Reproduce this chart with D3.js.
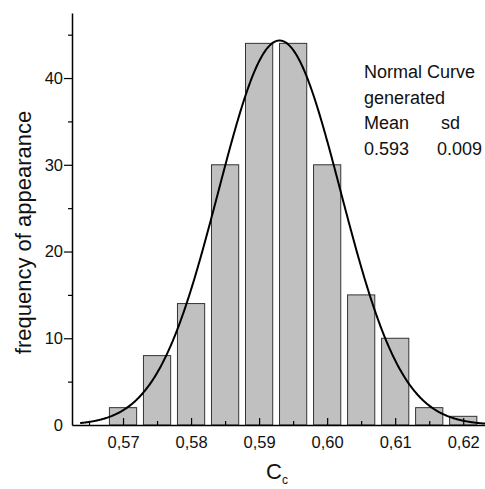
<!DOCTYPE html>
<html>
<head>
<meta charset="utf-8">
<script src="https://cdn.jsdelivr.net/npm/d3@7"></script>
<style>
  html, body { margin: 0; padding: 0; background: #fff; }
  svg { display: block; font-family: "Liberation Sans", Arial, Helvetica, sans-serif; }
</style>
</head>
<body>
<svg id="chart" width="485" height="489"></svg>
<script>
// Histogram of Cc with fitted normal curve
const binCenters = [0.570, 0.575, 0.580, 0.585, 0.590, 0.595, 0.600, 0.605, 0.610, 0.615, 0.620];
const frequencies = [2, 8, 14, 30, 44, 44, 30, 15, 10, 2, 1];
const binWidth = 0.005;
const barWidth = 0.004;
const curveMean = 0.593;
const curveSd = 0.009;
const xTickLabels = [0.57, 0.58, 0.59, 0.60, 0.61, 0.62];
const xMinorTicks = [0.565, 0.575, 0.585, 0.595, 0.605, 0.615];
const yTickLabels = [0, 10, 20, 30, 40];
const yMinorTicks = [5, 15, 25, 35, 45];
const legendLines = [["Normal Curve", ""], ["generated", ""], ["Mean", "sd"], ["0.593", "0.009"]];

const svg = d3.select("#chart");
const x = d3.scaleLinear().domain([0.5625, 0.6232]).range([72, 485]);
const y = d3.scaleLinear().domain([0, 47.5]).range([425, 13]);

// bars
svg.append("g").selectAll("rect")
  .data(binCenters.map((c, i) => ({ c, f: frequencies[i] })))
  .join("rect")
  .attr("x", d => x(d.c - barWidth / 2))
  .attr("width", d => x(d.c + barWidth / 2) - x(d.c - barWidth / 2))
  .attr("y", d => y(d.f))
  .attr("height", d => y(0) - y(d.f))
  .attr("fill", "#c0c0c0")
  .attr("stroke", "#333")
  .attr("stroke-width", 1);

// normal curve scaled to the histogram counts
const total = d3.sum(frequencies);
const amp = total * binWidth / (curveSd * Math.sqrt(2 * Math.PI));
const curvePts = d3.range(0.5637, 0.62321, 0.0001).map(v => [v, amp * Math.exp(-((v - curveMean) ** 2) / (2 * curveSd * curveSd))]);
svg.append("path")
  .datum(curvePts)
  .attr("fill", "none")
  .attr("stroke", "#000")
  .attr("stroke-width", 2)
  .attr("d", d3.line().x(d => x(d[0])).y(d => y(d[1])));

const fmtComma = d => d3.format(".2f")(d).replace(".", ",");

// x axis: ticks point up into the plot
svg.append("g").attr("transform", `translate(0,${y(0)})`)
  .call(d3.axisBottom(x).tickValues(xTickLabels).tickFormat(fmtComma)
    .tickSize(-7).tickSizeOuter(0).tickPadding(11));
svg.append("g").attr("transform", `translate(0,${y(0)})`)
  .call(d3.axisBottom(x).tickValues(xMinorTicks).tickFormat("")
    .tickSize(-4).tickSizeOuter(0))
  .select(".domain").remove();

// y axis: ticks point outward
const yAxis = svg.append("g").attr("transform", `translate(${x.range()[0]},0)`)
  .call(d3.axisLeft(y).tickValues(yTickLabels).tickSize(8).tickSizeOuter(0).tickPadding(1));
yAxis.selectAll(".tick").filter(d => d === 0).select("line").remove();
svg.append("g").attr("transform", `translate(${x.range()[0]},0)`)
  .call(d3.axisLeft(y).tickValues(yMinorTicks).tickFormat("").tickSize(4).tickSizeOuter(0))
  .select(".domain").remove();

svg.selectAll(".domain").attr("stroke", "#000").attr("stroke-width", 1.5);
svg.selectAll(".tick line").attr("stroke", "#000").attr("stroke-width", 1.2);
svg.selectAll(".tick text").attr("font-size", 16.5).attr("fill", "#111")
  .attr("font-family", "'Liberation Sans', Arial, sans-serif");

// axis titles
svg.append("text")
  .attr("transform", "rotate(-90)")
  .attr("x", -232.5).attr("y", 31)
  .attr("text-anchor", "middle")
  .attr("font-size", 22).attr("fill", "#111")
  .text("frequency of appearance");

const xt = svg.append("text").attr("x", 266).attr("y", 479).attr("font-size", 22).attr("fill", "#111");
xt.append("tspan").text("C");
xt.append("tspan").attr("font-size", 12).attr("dy", 5).text("c");

// legend text
const leg = svg.append("g").attr("font-size", 18).attr("fill", "#111");
legendLines.forEach((row, i) => {
  const by = 78 + i * 25.5;
  leg.append("text").attr("x", 364).attr("y", by).text(row[0]);
  if (row[1]) {
    leg.append("text").attr("x", row[1] === "sd" ? 441 : 437).attr("y", by).text(row[1]);
  }
});
</script>
</body>
</html>
